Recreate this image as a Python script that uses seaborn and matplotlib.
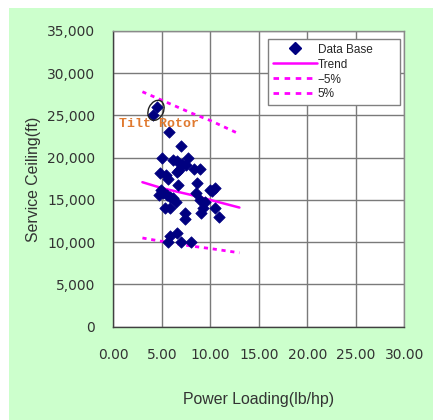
import matplotlib
matplotlib.use('Agg')
import matplotlib.pyplot as plt
import seaborn as sns
from matplotlib.patches import Ellipse, Rectangle
from matplotlib.lines import Line2D
from matplotlib.transforms import ScaledTranslation
from matplotlib.ticker import FuncFormatter, MultipleLocator

# Data base points (power loading lb/hp, service ceiling ft)
power_loading = [4.12, 4.55, 5.77, 6.98, 5.05, 6.2, 6.55, 7.05, 7.73, 7.5,
                 6.8, 6.6, 8.35, 8.9, 4.85, 5.43, 5.67, 6.65, 8.6, 4.9,
                 5.15, 4.7, 5.5, 5.85, 6.2, 6.45, 5.33, 5.85, 8.5, 8.9,
                 9.45, 9.28, 9.05, 7.35, 7.4, 9.97, 10.45, 10.15, 10.48, 10.9,
                 6.53, 5.85, 5.6, 6.94, 8.05]
service_ceiling = [25000, 26000, 23000, 21400, 20000, 19700, 19600, 19300, 20000, 19100,
                   18600, 18300, 18700, 18700, 18200, 18000, 17500, 16800, 17000, 16200,
                   15800, 15600, 15600, 15300, 15200, 14800, 14000, 14100, 15800, 15000,
                   14800, 14100, 13500, 13500, 12700, 16200, 16400, 16000, 14000, 13000,
                   11100, 10700, 10000, 10000, 10000]

# Trend and band curves
trend_x = [3, 5, 8, 10, 13]
trend_y = [17100, 16400, 15600, 15000, 14100]
lower_y = [10500, 10100, 9550, 9250, 8750]    # "-5%"
upper_y = [27800, 26800, 25300, 24400, 22800]  # "5%"

# tilt rotor callout
tilt_x, tilt_y = 4.4, 25600
tilt_label = 'Tilt Rotor'

sns.set_style('white')
plt.rcParams['font.family'] = ['DejaVu Sans']

fig = plt.figure(figsize=(4.33, 4.20), dpi=100, facecolor='white')
fig.patches.append(Rectangle((9 / 433, 0), 1 - 9 / 433, 412 / 420, transform=fig.transFigure,
                             facecolor='#CCFFCC', edgecolor='none', zorder=-1))
ax = fig.add_axes([0.2617, 0.2221, 0.672, 0.7043])
ax.set_facecolor('white')

dash = (0, (1.5, 1.7))
sns.lineplot(x=trend_x, y=upper_y, ax=ax, color='#FF00FF', lw=2.0, linestyle=dash, zorder=3)
sns.lineplot(x=trend_x, y=lower_y, ax=ax, color='#FF00FF', lw=2.0, linestyle=dash, zorder=3)
sns.lineplot(x=trend_x, y=trend_y, ax=ax, color='#FF00FF', lw=1.8, zorder=3)
sns.scatterplot(x=power_loading, y=service_ceiling, ax=ax, marker='D', color='#000080',
                s=34, edgecolor='#000080', linewidth=0.5, zorder=4)

ax.add_patch(Ellipse((0, 0), 0.15, 0.21, angle=-25, fill=False, edgecolor='#202020', lw=1.0,
                     transform=fig.dpi_scale_trans + ScaledTranslation(tilt_x, tilt_y, ax.transData),
                     zorder=5))
ax.text(4.66, 24000, tilt_label, ha='center', va='center', color='#E07A30',
        family='Liberation Mono', weight='bold', fontsize=9.5, zorder=6)

ax.set_xlim(0, 30)
ax.set_ylim(0, 35000)
ax.xaxis.set_major_locator(MultipleLocator(5))
ax.yaxis.set_major_locator(MultipleLocator(5000))
ax.xaxis.set_major_formatter(FuncFormatter(lambda v, p: f'{v:.2f}'))
ax.yaxis.set_major_formatter(FuncFormatter(lambda v, p: f'{v:,.0f}'))
ax.tick_params(axis='both', length=0, labelsize=10, colors='#333333')
ax.tick_params(axis='y', pad=13)
ax.tick_params(axis='x', pad=15)
ax.grid(True, color='#7a7a7a', lw=1.0)
ax.set_axisbelow(True)
for side in ['left', 'bottom']:
    ax.spines[side].set_color('#404040')
for side in ['top', 'right']:
    ax.spines[side].set_color('#8a8a8a')
for sp in ax.spines.values():
    sp.set_linewidth(1.0)

ax.set_xlabel('Power Loading(lb/hp)', family='Liberation Sans', fontsize=11.4, color='#333333', labelpad=22)
ax.set_ylabel('Service Ceiling(ft)', family='Liberation Sans', fontsize=11.4, color='#333333', labelpad=4)

handles = [Line2D([], [], marker='D', color='#000080', ls='none', markersize=6),
           Line2D([], [], color='#FF00FF', lw=1.8),
           Line2D([], [], color='#FF00FF', lw=2.0, ls=(0, (2, 2))),
           Line2D([], [], color='#FF00FF', lw=2.0, ls=(0, (2, 2)))]
pad = '\u00a0' * 7
leg = ax.legend(handles, ['Data Base' + pad, 'Trend', '\u22125%', '5%'], loc='upper right',
                bbox_to_anchor=(0.985, 0.973), borderaxespad=0, fancybox=False,
                prop={'family': 'Liberation Sans', 'size': 8.5}, handlelength=3.7,
                handletextpad=0.1, labelspacing=0.25, borderpad=0.4, framealpha=1)
leg.get_frame().set_edgecolor('#808080')
leg.get_frame().set_linewidth(1.0)
# marker sits in the middle, label shifted right like the original
leg.get_texts()[0].set_position((0, 0))

fig.savefig('out.png', dpi=100, facecolor=fig.get_facecolor())
